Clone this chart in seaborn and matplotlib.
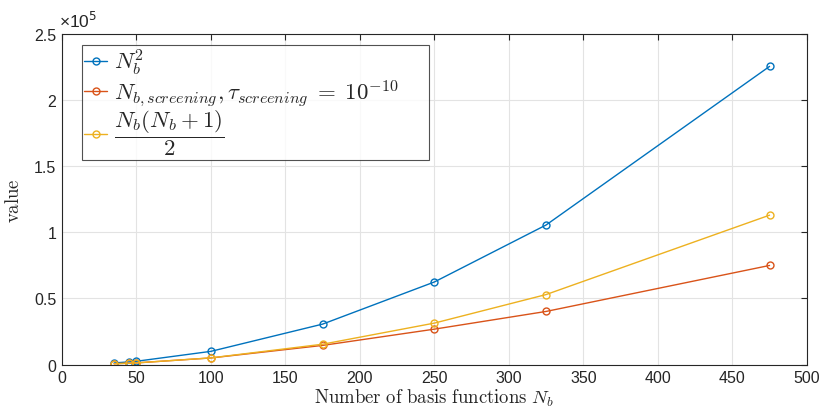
import numpy as np
import pandas as pd
import matplotlib
matplotlib.use("Agg")
import matplotlib.pyplot as plt
import seaborn as sns

# basis sizes and counts
n_basis = [35, 45, 50, 100, 175, 250, 325, 475]
n_squared = [1225, 2025, 2500, 10000, 30625, 62500, 105625, 225625]
n_screening = [620, 1020, 1260, 5000, 14500, 26800, 40200, 75000]
n_half = [630, 1035, 1275, 5050, 15400, 31375, 52975, 113050]

labels = [r"$N_b^2$",
          r"$N_{b,screening}, \tau_{screening} \;=\; 10^{-10}$" + "     ",
          r"$\dfrac{N_b(N_b+1)}{2}$"]
colors = ["#0072BD", "#D95319", "#EDB120"]

df = pd.DataFrame({
    "N": n_basis * 3,
    "value": n_squared + n_screening + n_half,
    "series": [labels[0]] * 8 + [labels[1]] * 8 + [labels[2]] * 8,
})

sns.set_style("white")
plt.rcParams["font.family"] = ["Liberation Sans", "DejaVu Sans"]
plt.rcParams["mathtext.fontset"] = "cm"

fig = plt.figure(figsize=(8.23, 4.14), dpi=100)
ax = fig.add_axes([0.0753, 0.117, 0.905, 0.798])

sns.lineplot(data=df, x="N", y="value", hue="series", palette=colors,
             marker="o", markersize=5, markerfacecolor="none",
             markeredgewidth=1.0, linewidth=1.0, ax=ax, legend=False)
# hollow markers: edge coloured like line
for line, c in zip(ax.get_lines(), colors):
    line.set_markeredgecolor(c)

ax.set_xlim(0, 500)
ax.set_ylim(0, 2.5e5)
ax.set_xticks(np.arange(0, 501, 50))
ax.set_yticks(np.arange(0, 2.51e5, 0.5e5))
ax.set_yticklabels(["0", "0.5", "1", "1.5", "2", "2.5"])
# MATLAB style exponent label
ax.text(-0.004, 1.012, "\u00d710$^{5}$", transform=ax.transAxes,
        fontsize=12.5, color="#262626", ha="left", va="bottom",
        math_fontfamily="dejavusans")
ax.tick_params(labelsize=11.5, colors="#262626", direction="in", length=4,
               top=True, right=True, pad=4)
ax.grid(True, color="#e3e3e3", linewidth=0.8)
for s in ax.spines.values():
    s.set_color("#262626")
    s.set_linewidth(0.8)

ax.set_xlabel(r"$\mathrm{Number\ of\ basis\ functions}\ N_b$", fontsize=13.5,
              labelpad=1)
ax.set_ylabel(r"$\mathrm{value}$", fontsize=13.5, labelpad=8)

handles = [plt.Line2D([], [], color=c, marker="o", markerfacecolor="none",
                      markersize=5, linewidth=1.0) for c in colors]
leg = ax.legend(handles, labels, loc="upper left",
                bbox_to_anchor=(0.027, 0.967), borderaxespad=0, fontsize=16.5,
                frameon=True, fancybox=False, edgecolor="#262626",
                handlelength=1.0, handletextpad=0.3, borderpad=0.1,
                labelspacing=0.0)
leg.get_frame().set_linewidth(0.8)

fig.savefig("out.png", dpi=100)
